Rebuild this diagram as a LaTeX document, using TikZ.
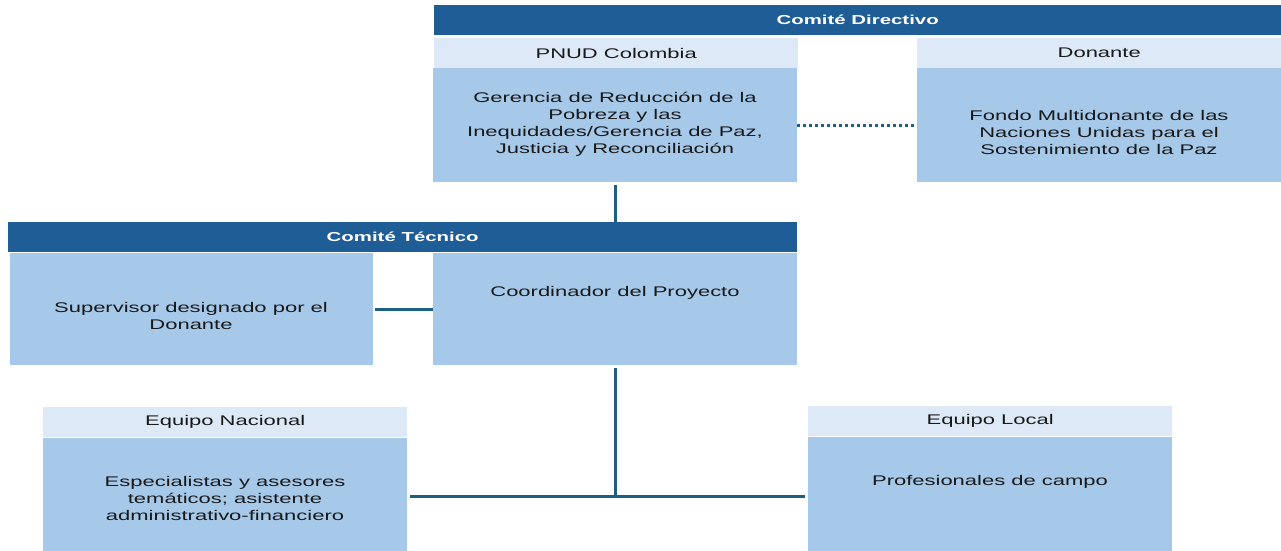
\documentclass[tikz,border=0pt]{standalone}
\usepackage{fontspec}
\setmainfont{Liberation Sans}[FakeStretch=1.57]
\usepackage{tikz}

\definecolor{barblue}{RGB}{31,93,150}
\definecolor{headblue}{RGB}{221,233,246}
\definecolor{boxblue}{RGB}{166,201,234}
\definecolor{lineblue}{RGB}{30,96,132}

\tikzset{
    bar/.style={fill=barblue, text=white, font=\fontsize{13}{15}\selectfont\bfseries,
        anchor=north west, inner sep=0pt, minimum height=30pt},
    head/.style={fill=headblue, text=black!90, font=\fontsize{14}{17}\selectfont,
        anchor=north west, inner sep=0pt, minimum height=30pt, minimum width=364pt},
    box/.style={fill=boxblue, anchor=north west, inner sep=0pt, minimum width=364pt},
    txt/.style={text=black!90, font=\fontsize{14}{17}\selectfont, align=center, inner sep=0pt},
    link/.style={draw=lineblue, line width=3pt}
}

\begin{document}
\begin{tikzpicture}[x=1pt, y=-1pt]
        \useasboundingbox (0,0) rectangle (1281,550);
        % comite directivo
        \node[bar, minimum width=847pt] (cdir) at (434,5) {Comité Directivo};
        \node[head] (pnud) at (434,38) {PNUD Colombia};
        \node[box, minimum height=114pt] (gerencia) at (433,68) {};
        \node[txt] (gerenciatxt) at (615,124) {Gerencia de Reducción de la\\Pobreza y las\\Inequidades/Gerencia de Paz,\\Justicia y Reconciliación};
        \node[head] (donante) at (917,38) {Donante};
        \node[box, minimum height=114pt] (fondo) at (917,68) {};
        \node[txt] (fondotxt) at (1099,132) {Fondo Multidonante de las\\Naciones Unidas para el\\Sostenimiento de la Paz};
        % comite tecnico
        \node[bar, minimum width=789pt] (ctec) at (8,222) {Comité Técnico};
        \node[box, minimum width=363pt, minimum height=112pt] (superv) at (10,253) {};
        \node[txt] (supervtxt) at (191,316) {Supervisor designado por el\\Donante};
        \node[box, minimum height=112pt] (coord) at (433,253) {};
        \node[txt] (coordtxt) at (615,293) {Coordinador del Proyecto};
        % equipos
        \node[head] (nacional) at (43,407) {Equipo Nacional};
        \node[box, minimum height=116pt] (nacbox) at (43,438) {};
        \node[txt] (nactxt) at (225,498) {Especialistas y asesores\\temáticos; asistente\\administrativo-financiero};
        \node[head] (local) at (808,406) {Equipo Local};
        \node[box, minimum height=118pt] (locbox) at (808,437) {};
        \node[txt] (loctxt) at (990,482) {Profesionales de campo};
        % lineas
        \draw[link, dash pattern=on 3pt off 3pt] (gerencia.east) -- (fondo.west);
        \draw[link, shorten <=3pt] (gerencia.south) -- (ctec.north -| gerencia.south);
        \draw[link, shorten <=2pt] (superv.east) -- (coord.west);
        \draw[link, shorten <=3pt] (coord.south) -- (coord.south |- nacbox.east);
        \draw[link, shorten <=3pt, shorten >=3pt] (nacbox.east) -- (locbox.west);
    \end{tikzpicture}
\end{document}
